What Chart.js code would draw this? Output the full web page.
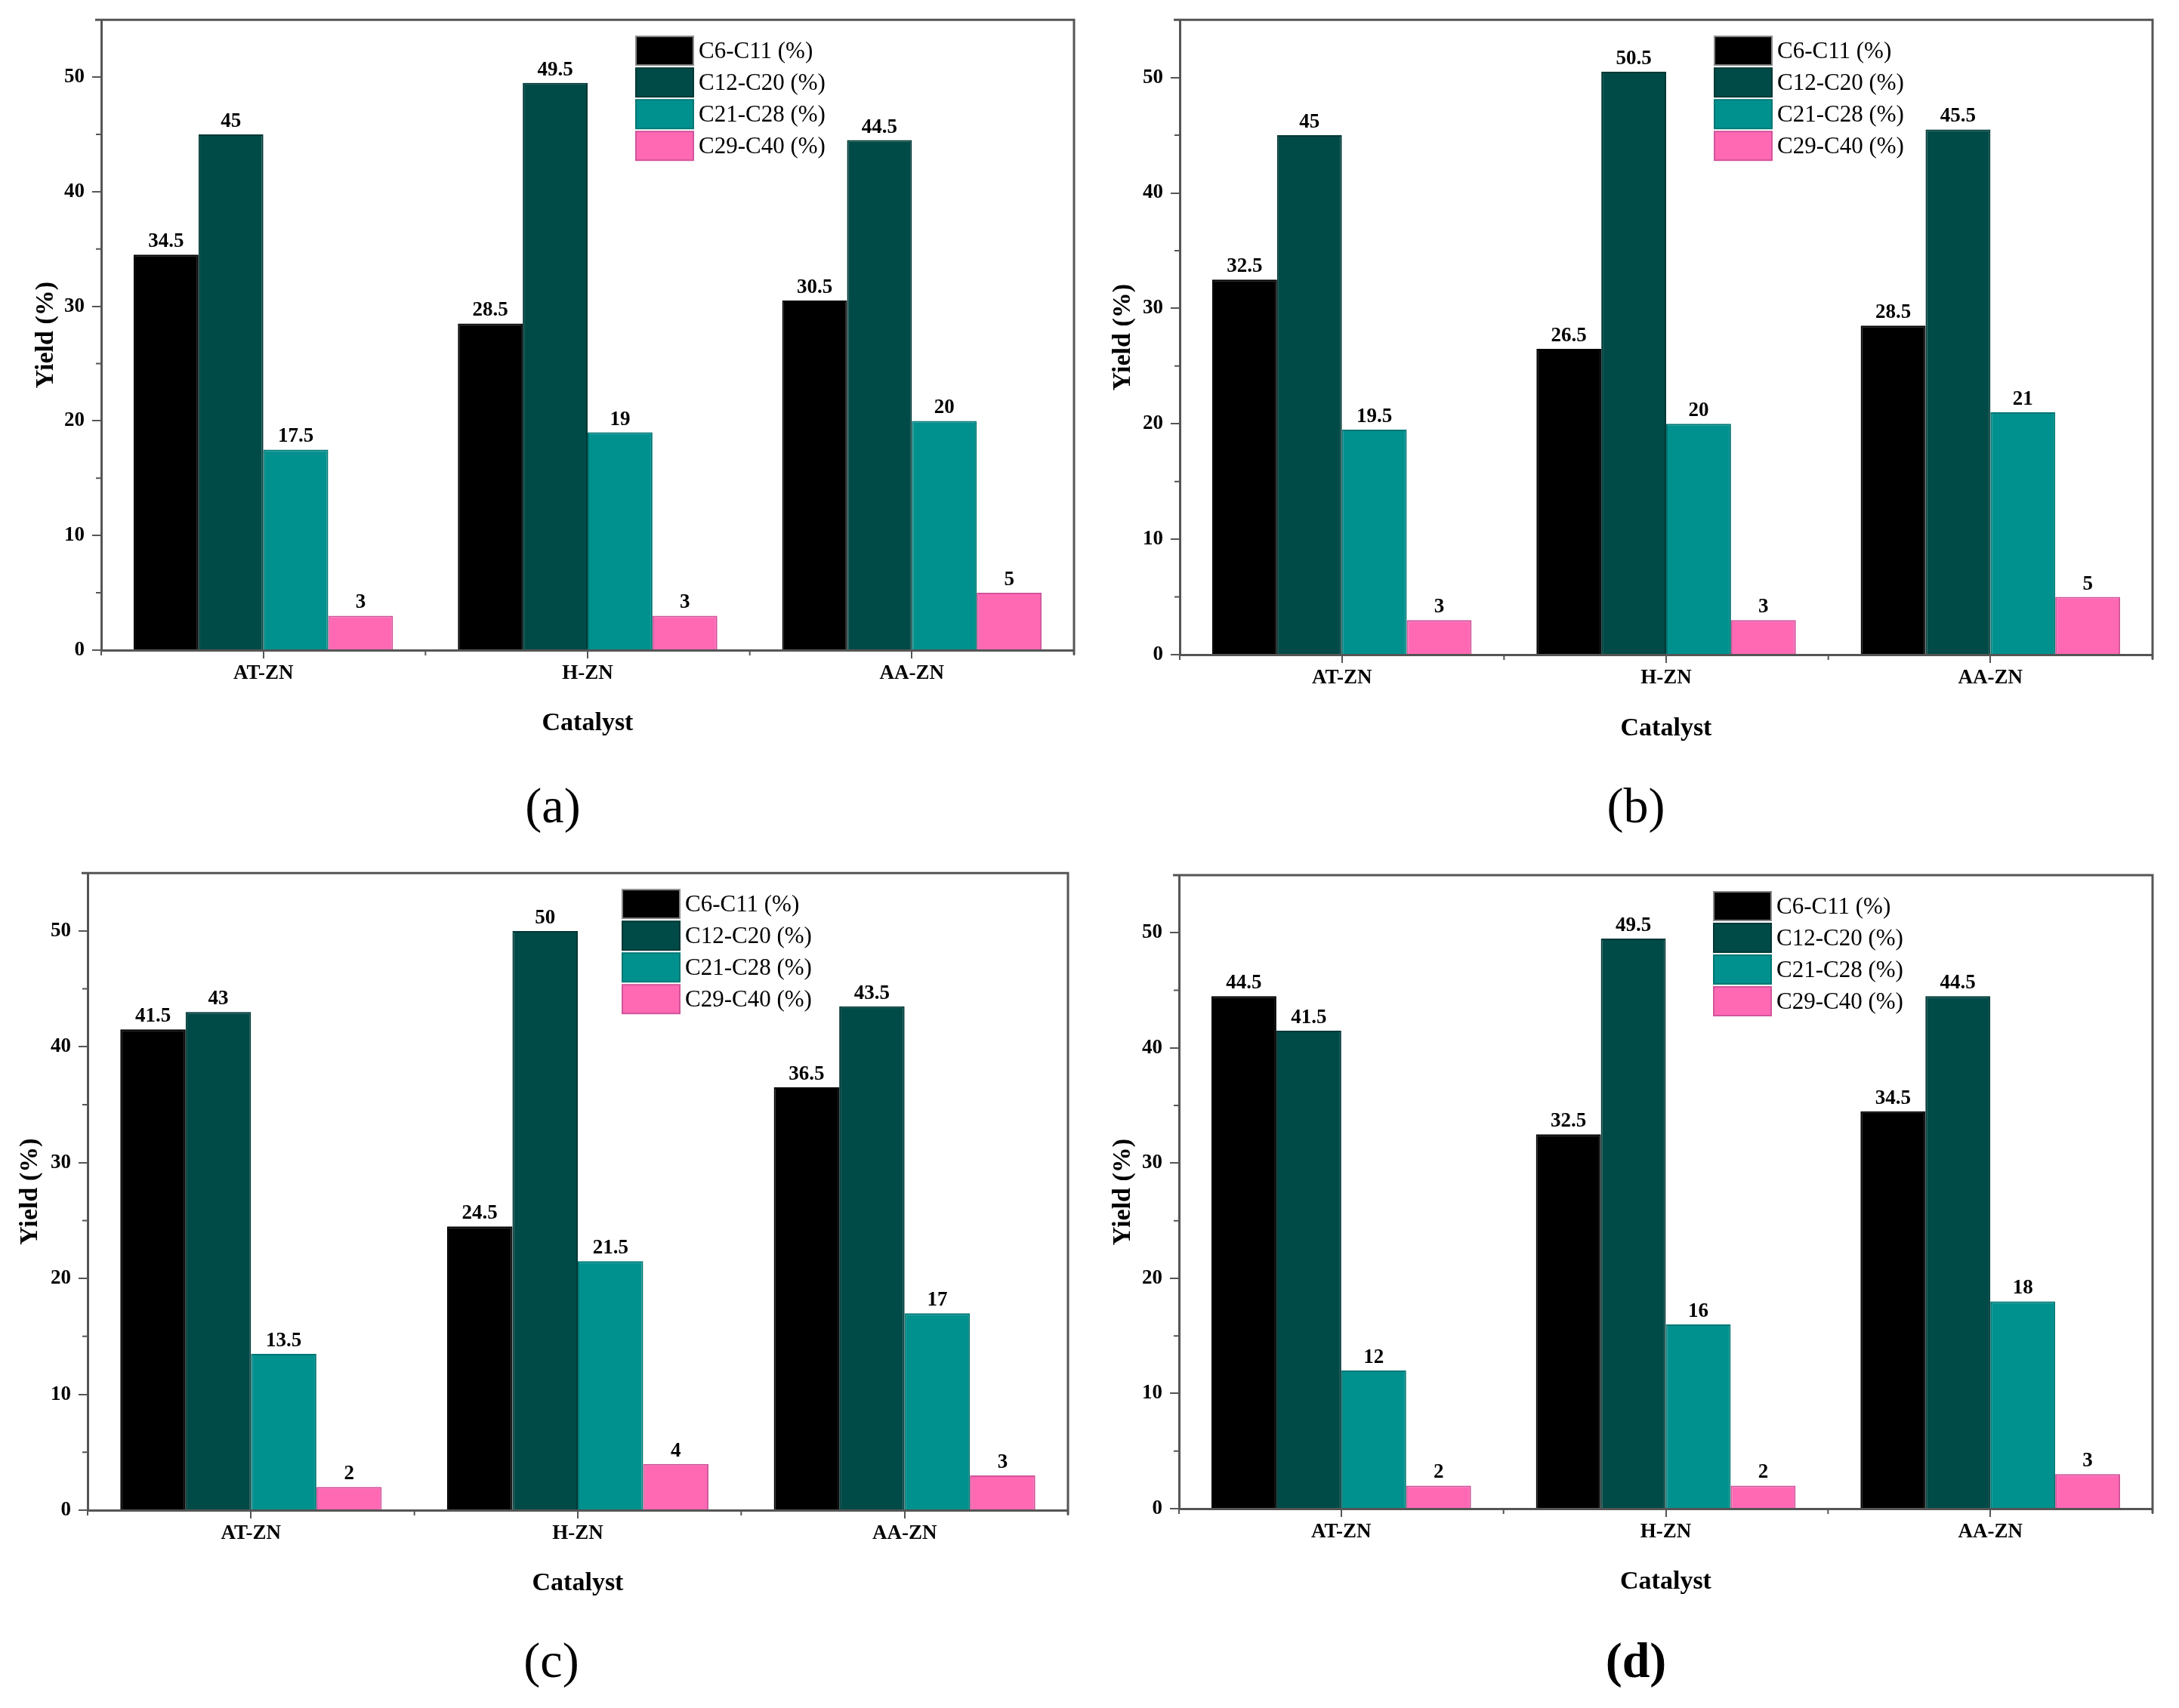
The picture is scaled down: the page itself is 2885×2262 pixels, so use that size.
<!DOCTYPE html>
<html>
<head>
<meta charset="utf-8">
<script src="https://cdn.jsdelivr.net/npm/chart.js@4.4.0/dist/chart.umd.min.js"></script>
<style>
  body { margin: 0; background: #fff; width: 2885px; height: 2262px; position: relative; overflow: hidden; font-family: 'Liberation Serif', serif; }
  canvas { position: absolute; }
  .tag { position: absolute; font-size: 66px; line-height: 1; transform: translate(-50%, -50%); color: #000; }
</style>
</head>
<body>
<canvas id="pa" width="1440" height="1000" style="left:0;top:0"></canvas>
<canvas id="pb" width="1445" height="1000" style="left:1440px;top:0"></canvas>
<canvas id="pc" width="1440" height="1000" style="left:0;top:1130px"></canvas>
<canvas id="pd" width="1445" height="1000" style="left:1440px;top:1130px"></canvas>
<div class="tag" style="left:732px;top:1067px">(a)</div>
<div class="tag" style="left:2166px;top:1067px">(b)</div>
<div class="tag" style="left:730px;top:2199px">(c)</div>
<div class="tag" style="left:2166px;top:2199px;font-weight:bold">(d)</div>
<script>
// data
const catalysts = ['AT-ZN', 'H-ZN', 'AA-ZN']
const fractions = ['C6-C11 (%)', 'C12-C20 (%)', 'C21-C28 (%)', 'C29-C40 (%)']
const yTicks = [0, 10, 20, 30, 40, 50]
const yMinor = [5, 15, 25, 35, 45]

// one row per fraction, one value per catalyst
const panelA = [[34.5, 28.5, 30.5], [45, 49.5, 44.5], [17.5, 19, 20], [3, 3, 5]]
const panelB = [[32.5, 26.5, 28.5], [45, 50.5, 45.5], [19.5, 20, 21], [3, 3, 5]]
const panelC = [[41.5, 24.5, 36.5], [43, 50, 43.5], [13.5, 21.5, 17], [2, 4, 3]]
const panelD = [[44.5, 32.5, 34.5], [41.5, 49.5, 44.5], [12, 16, 18], [2, 2, 3]]

const fills = ['#000000', '#004a47', '#00918e', '#ff69b4']
const edges = ['#000000', '#003836', '#007774', '#d0549a']
const axisColor = '#555'

// where each chart area sits inside its canvas
const panels = [
  { id: 'pa', data: panelA, yw: 134, top: 24, right: 18, xh: 139, yPad: 41, xPad: 21 },
  { id: 'pb', data: panelB, yw: 122, top: 26, right: 35, xh: 133, yPad: 27, xPad: 14 },
  { id: 'pc', data: panelC, yw: 116, top: 25, right: 26, xh: 130, yPad: 20, xPad: 12 },
  { id: 'pd', data: panelD, yw: 121, top: 29, right: 35, xh: 132, yPad: 27, xPad: 14 },
]

Chart.defaults.font.family = "'Liberation Serif', serif"
Chart.defaults.color = '#000'

var extras = {
  id: 'extras',
  afterDatasetsDraw(chart) {
    var ctx = chart.ctx
    ctx.save()
    ctx.font = 'bold 27px "Liberation Serif"'
    ctx.fillStyle = '#000'
    ctx.textAlign = 'center'
    ctx.textBaseline = 'alphabetic'
    chart.data.datasets.forEach((ds, i) => {
      chart.getDatasetMeta(i).data.forEach((bar, j) => {
        ctx.fillText(String(ds.data[j]), bar.x, bar.y - 10)
      })
    })
    ctx.restore()
  },
  afterDraw(chart) {
    var ctx = chart.ctx
    var a = chart.chartArea
    var x = chart.scales.x, y = chart.scales.y
    ctx.save()
    ctx.strokeStyle = axisColor
    // top and right frame
    ctx.lineWidth = 3
    ctx.beginPath()
    ctx.moveTo(a.left - 8, a.top)
    ctx.lineTo(a.right, a.top)
    ctx.lineTo(a.right, a.bottom + 6)
    ctx.stroke()
    // minor ticks
    ctx.lineWidth = 2
    ctx.beginPath()
    yMinor.forEach(v => {
      var py = y.getPixelForValue(v)
      ctx.moveTo(a.left, py)
      ctx.lineTo(a.left - 7, py)
    })
    for (var k = -0.5; k <= catalysts.length - 0.5; k += 1) {
      var px = x.getPixelForValue(k)
      ctx.moveTo(px, a.bottom)
      ctx.lineTo(px, a.bottom + 7)
    }
    ctx.stroke()
    // legend
    var lx = a.left + 708, ly = a.top + 22
    ctx.font = '31px "Liberation Serif"'
    ctx.textAlign = 'left'
    ctx.textBaseline = 'middle'
    chart.data.datasets.forEach((ds, i) => {
      var by = ly + i * 42
      ctx.fillStyle = ds.backgroundColor
      ctx.fillRect(lx, by, 76, 38)
      ctx.strokeStyle = i == 0 ? '#888' : ds.borderColor
      ctx.lineWidth = 2
      ctx.strokeRect(lx, by, 76, 38)
      ctx.fillStyle = '#000'
      ctx.fillText(ds.label, lx + 83, by + 21)
    })
    ctx.restore()
  }
}

panels.forEach(p => {
  new Chart(document.getElementById(p.id), {
    type: 'bar',
    data: {
      labels: catalysts,
      datasets: fractions.map((name, i) => ({
        label: name,
        data: p.data[i],
        backgroundColor: fills[i],
        borderColor: edges[i],
        borderWidth: 2,
        barPercentage: 1.0,
        categoryPercentage: 0.8,
      }))
    },
    options: {
      responsive: false,
      animation: false,
      layout: { padding: { top: p.top, right: p.right, left: 0, bottom: 0 } },
      plugins: { legend: { display: false }, tooltip: { enabled: false } },
      scales: {
        x: {
          afterFit(s) { s.height = p.xh },
          grid: { offset: false, drawOnChartArea: false, tickLength: 11, lineWidth: 2, color: axisColor },
          border: { color: axisColor, width: 3 },
          ticks: { font: { size: 27, weight: 'bold' }, padding: 4, color: '#000' },
          title: { display: true, text: 'Catalyst', font: { size: 34, weight: 'bold' }, padding: { bottom: p.xPad }, color: '#000' }
        },
        y: {
          min: 0,
          max: 55,
          afterFit(s) { s.width = p.yw },
          afterBuildTicks(s) { s.ticks = yTicks.map(v => ({ value: v })) },
          grid: { drawOnChartArea: false, tickLength: 12, lineWidth: 2, color: axisColor },
          border: { color: axisColor, width: 3 },
          ticks: { font: { size: 27, weight: 'bold' }, padding: 10, color: '#000' },
          title: { display: true, text: 'Yield (%)', font: { size: 34, weight: 'bold' }, padding: { top: p.yPad }, color: '#000' }
        }
      }
    },
    plugins: [extras]
  })
})
</script>
</body>
</html>
